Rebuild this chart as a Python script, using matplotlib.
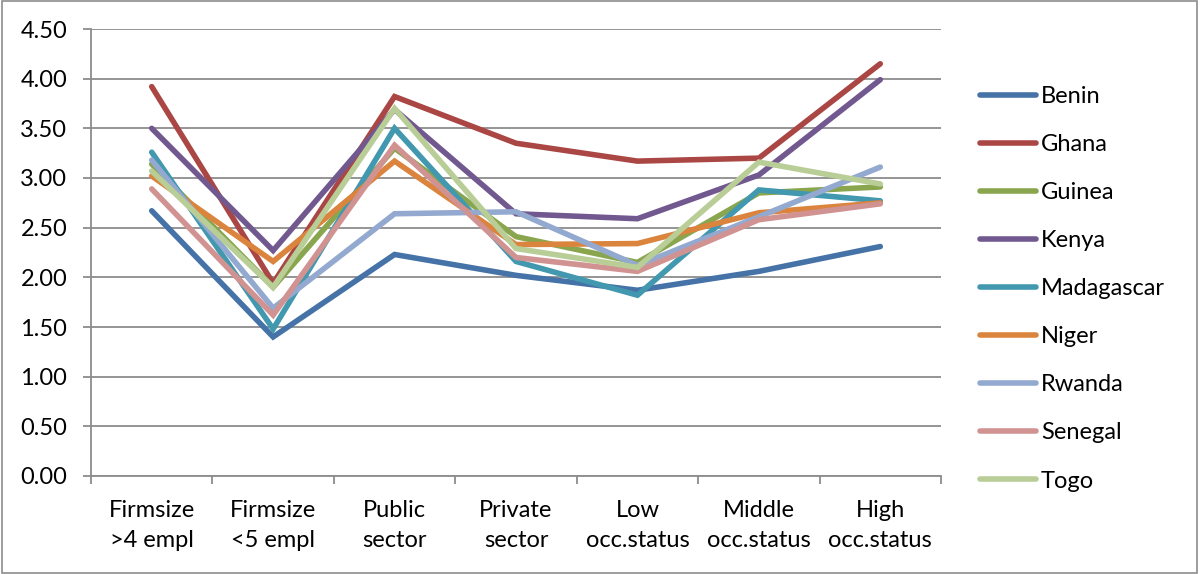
import matplotlib
matplotlib.use("Agg")
import matplotlib.pyplot as plt
from matplotlib.patches import Rectangle
from matplotlib.ticker import MultipleLocator, FixedLocator

plt.rcParams['font.family'] = ['Lato', 'DejaVu Sans']

categories = ["Firmsize\n>4 empl", "Firmsize\n<5 empl", "Public\nsector", "Private\nsector",
              "Low\nocc.status", "Middle\nocc.status", "High\nocc.status"]

benin      = [2.67, 1.40, 2.23, 2.02, 1.87, 2.06, 2.31]
ghana      = [3.92, 1.94, 3.82, 3.35, 3.17, 3.20, 4.15]
guinea     = [3.14, 1.90, 3.30, 2.41, 2.15, 2.85, 2.91]
kenya      = [3.50, 2.27, 3.69, 2.64, 2.59, 3.03, 3.99]
madagascar = [3.26, 1.48, 3.50, 2.16, 1.82, 2.88, 2.77]
niger      = [3.02, 2.16, 3.17, 2.33, 2.34, 2.65, 2.75]
rwanda     = [3.18, 1.69, 2.64, 2.66, 2.12, 2.61, 3.11]
senegal    = [2.89, 1.62, 3.33, 2.20, 2.06, 2.58, 2.74]
togo       = [3.07, 1.90, 3.70, 2.29, 2.10, 3.16, 2.94]

series = [
    ("Benin", benin, "#4572A7"),
    ("Ghana", ghana, "#AA4643"),
    ("Guinea", guinea, "#89A54E"),
    ("Kenya", kenya, "#71588F"),
    ("Madagascar", madagascar, "#4198AF"),
    ("Niger", niger, "#DB843D"),
    ("Rwanda", rwanda, "#93A9CF"),
    ("Senegal", senegal, "#D19392"),
    ("Togo", togo, "#B9CD96"),
]

FS = 17
LW = 4.0

fig = plt.figure(figsize=(12, 5.74), dpi=100)
ax = fig.add_axes([91 / 1200, 98 / 574, 850 / 1200, 447 / 574])

x = list(range(len(categories)))
for name, vals, color in series:
    ax.plot(x, vals, color=color, lw=LW, solid_capstyle='round',
            solid_joinstyle='miter', label=name)

grid_col = "#8c8c8c"
ax.set_xlim(-0.5, len(categories) - 0.5)
ax.set_ylim(0, 4.5)
ax.yaxis.set_major_locator(MultipleLocator(0.5))
ax.yaxis.set_major_formatter(matplotlib.ticker.FormatStrFormatter('%.2f'))
ax.grid(axis='y', color=grid_col, lw=1.3)
ax.set_axisbelow(True)

ax.set_xticks(x)
ax.set_xticklabels(categories, linespacing=1.55)
ax.xaxis.set_minor_locator(FixedLocator([i - 0.5 for i in range(len(categories) + 1)]))
ax.tick_params(axis='x', which='major', length=0, pad=17, labelsize=FS)
ax.tick_params(axis='x', which='minor', length=6, width=1.3, color=grid_col)
ax.tick_params(axis='y', length=6, width=1.3, color=grid_col, pad=11, labelsize=FS)

for s in ['top', 'right']:
    ax.spines[s].set_visible(False)
for s in ['left', 'bottom']:
    ax.spines[s].set_color(grid_col)
    ax.spines[s].set_linewidth(1.3)

leg = ax.legend(loc='upper left', bbox_to_anchor=(959 / 1200, 509 / 574),
                bbox_transform=fig.transFigure, frameon=False, fontsize=FS,
                handlelength=2.37, handletextpad=0.2, labelspacing=1.145)
for line in leg.get_lines():
    line.set_linewidth(LW)
    line.set_solid_capstyle('round')

fig.add_artist(Rectangle((2 / 1200, 1 / 574), 1195 / 1200, 572 / 574,
                         transform=fig.transFigure, fill=False,
                         edgecolor="#8c8c8c", lw=1.2))

fig.savefig("out.png", dpi=100, facecolor='white')
